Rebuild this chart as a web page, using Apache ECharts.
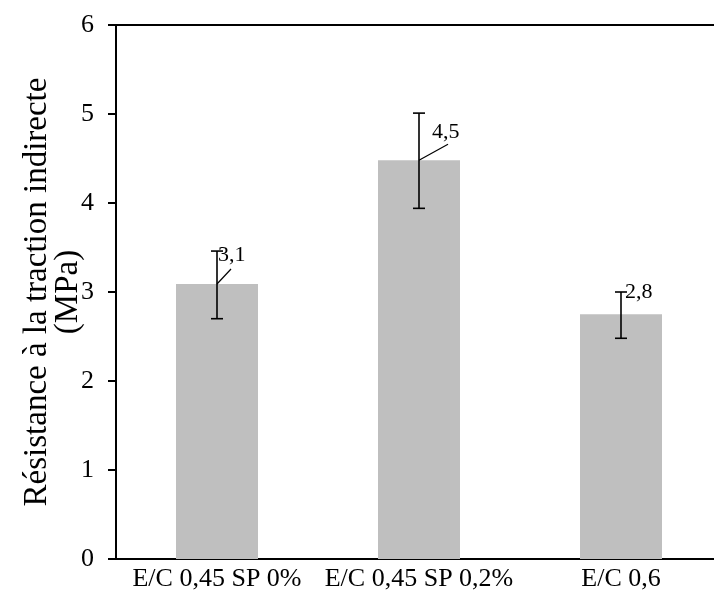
<!DOCTYPE html>
<html>
<head>
<meta charset="utf-8">
<script src="https://cdn.jsdelivr.net/npm/echarts@6/dist/echarts.min.js"></script>
<style>html,body{margin:0;padding:0;background:#fff}#c{width:714px;height:601px}</style>
</head>
<body>
<div id="c"></div>
<script>
// ---- data ----
const categories = ['E/C 0,45 SP 0%', 'E/C 0,45 SP 0,2%', 'E/C 0,6'];
const values = [3.09, 4.48, 2.75];
const errHigh = [3.46, 5.01, 3.00];
const errLow = [2.70, 3.94, 2.48];
const labelTexts = ['3,1', '4,5', '2,8'];
const yTicks = [0, 1, 2, 3, 4, 5, 6];
const yTitle = 'Résistance à la traction indirecte\n(MPa)';

// ---- styling (label placement in pixels, relative to bar top) ----
const labelStyle = [
  { tx: 1, ty: -29, lx: 14, ly: -15 },
  { tx: 13, ty: -28, lx: 29, ly: -16 },
  { tx: 4, ty: -22, lx: 0, ly: 0 }
];
const FONT = '"Liberation Serif", "Times New Roman", serif';

const chart = echarts.init(document.getElementById('c'));
chart.setOption({
  animation: false,
  grid: { left: 116, top: 25, width: 606, height: 534, show: true, borderColor: '#000', borderWidth: 2, containLabel: false, outerBoundsMode: 'none' },
  xAxis: {
    type: 'category', data: categories,
    axisLine: { lineStyle: { color: '#000', width: 2 } },
    axisTick: { alignWithLabel: true, length: 6, lineStyle: { color: '#000', width: 2 } },
    axisLabel: { color: '#000', fontFamily: FONT, fontSize: 26, margin: 7, interval: 0 },
    splitLine: { show: false }
  },
  yAxis: {
    type: 'value', min: yTicks[0], max: yTicks[yTicks.length - 1], interval: 1,
    axisLine: { show: true, lineStyle: { color: '#000', width: 2 } },
    axisTick: { show: true, length: 8, lineStyle: { color: '#000', width: 2 } },
    axisLabel: { color: '#000', fontFamily: FONT, fontSize: 26, margin: 22 },
    splitLine: { show: false },
    name: yTitle, nameLocation: 'middle', nameGap: 32, nameRotate: 90, nameMoveOverlap: false,
    nameTextStyle: { color: '#000', fontFamily: FONT, fontSize: 33, lineHeight: 31, align: 'center' }
  },
  series: [
    {
      type: 'bar', data: values, barWidth: 82,
      itemStyle: { color: '#bfbfbf' }
    },
    {
      type: 'custom',
      data: categories.map((c, i) => [i, errLow[i], errHigh[i]]),
      renderItem: function (params, api) {
        const i = api.value(0);
        const lo = api.coord([i, api.value(1)]);
        const hi = api.coord([i, api.value(2)]);
        const w = 6;
        const st = { stroke: '#000', lineWidth: 1.6 };
        return { type: 'group', children: [
          { type: 'line', shape: { x1: lo[0], y1: lo[1], x2: hi[0], y2: hi[1] }, style: st },
          { type: 'line', shape: { x1: lo[0] - w, y1: lo[1], x2: lo[0] + w, y2: lo[1] }, style: st },
          { type: 'line', shape: { x1: hi[0] - w, y1: hi[1], x2: hi[0] + w, y2: hi[1] }, style: st }
        ]};
      },
      z: 5
    },
    {
      type: 'custom',
      data: categories.map((c, i) => [i, values[i]]),
      renderItem: function (params, api) {
        const i = api.value(0);
        const p = api.coord([i, api.value(1)]);
        const s = labelStyle[params.dataIndex];
        const children = [];
        if (s.lx || s.ly) {
          children.push({ type: 'line', shape: { x1: p[0], y1: p[1], x2: p[0] + s.lx, y2: p[1] + s.ly }, style: { stroke: '#000', lineWidth: 1.2 } });
        }
        children.push({ type: 'text', x: p[0] + s.tx, y: p[1] + s.ty,
          style: { text: labelTexts[params.dataIndex], fill: '#000', font: '22px ' + FONT, textAlign: 'left', textVerticalAlign: 'middle' } });
        return { type: 'group', children: children };
      },
      z: 6
    }
  ]
});
</script>
</body>
</html>
